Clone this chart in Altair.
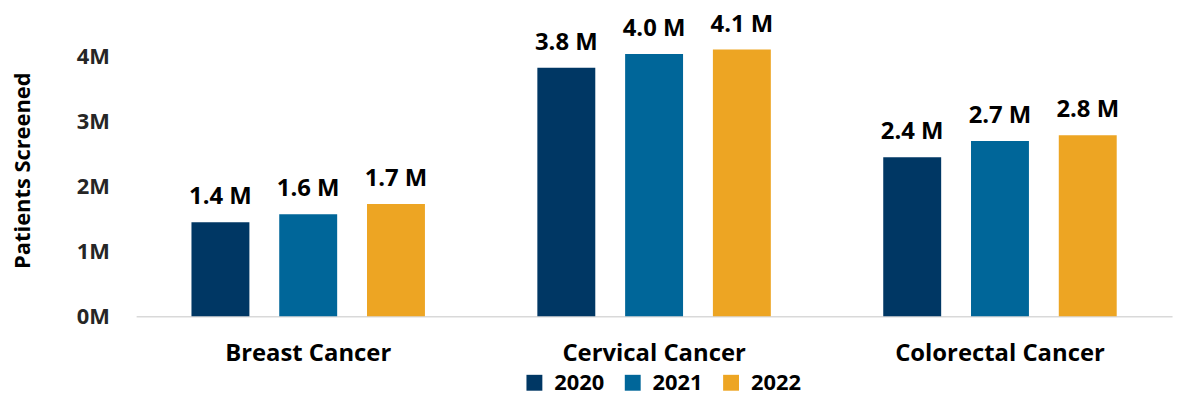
import altair as alt
import pandas as pd

categories = ["Breast Cancer", "Cervical Cancer", "Colorectal Cancer"]
years = ["2020", "2021", "2022"]
values_2020 = [1.45, 3.83, 2.45]
values_2021 = [1.57, 4.04, 2.70]
values_2022 = [1.73, 4.11, 2.79]
labels_2020 = ["1.4 M", "3.8 M", "2.4 M"]
labels_2021 = ["1.6 M", "4.0 M", "2.7 M"]
labels_2022 = ["1.7 M", "4.1 M", "2.8 M"]
colors = ["#003764", "#006699", "#EDA523"]

rows = []
for yr, vals, labs in zip(years, [values_2020, values_2021, values_2022],
                          [labels_2020, labels_2021, labels_2022]):
    for c, v, l in zip(categories, vals, labs):
        rows.append({"category": c, "year": yr, "value": v * 1e6, "label": l})
df = pd.DataFrame(rows)

FONT = "Open Sans"

x = alt.X("category:N", sort=categories, title=None,
          scale=alt.Scale(paddingInner=0.325, paddingOuter=0.16),
          axis=alt.Axis(labelAngle=0, labelFont=FONT, labelFontSize=24, labelFontWeight="bold",
                        labelColor="#000000", labelPadding=26, labelLimit=400, ticks=False,
                        domainColor="#d9d9d9", domainWidth=1.5))
xo = alt.XOffset("year:N", sort=years, scale=alt.Scale(paddingInner=0.34, paddingOuter=0))
y = alt.Y("value:Q", title="Patients Screened",
          scale=alt.Scale(domain=[0, 4.5e6], nice=False),
          axis=alt.Axis(values=[0, 1e6, 2e6, 3e6, 4e6], labelExpr="(datum.value/1e6) + 'M'",
                        grid=False, domain=False, ticks=False, labelFont=FONT, labelFontSize=22,
                        labelFontWeight="bold", labelColor="#262626", labelPadding=27,
                        titleFont=FONT, titleFontSize=22, titleFontWeight="bold",
                        titleColor="#000000", titlePadding=42))
color = alt.Color("year:N", sort=years, scale=alt.Scale(domain=years, range=colors),
                  legend=alt.Legend(title=None, orient="none", direction="horizontal",
                                    legendX=390, legendY=350, symbolType="square",
                                    symbolSize=256, symbolStrokeWidth=0, labelFont=FONT,
                                    labelFontSize=22, labelFontWeight="bold", labelColor="#000000",
                                    columnPadding=17, labelOffset=9))

base = alt.Chart(df).encode(x=x, xOffset=xo, y=y)
bars = base.mark_bar().encode(color=color)
text = base.mark_text(baseline="alphabetic", dy=-18, font=FONT, fontSize=24,
                      fontWeight="bold", color="#000000").encode(text="label:N")

chart = (bars + text).properties(
    width=1043, height=294,
    autosize=alt.AutoSizeParams(type="none"),
    padding={"left": 129, "top": 15, "right": 8, "bottom": 78},
).configure_view(stroke=None)

chart.save("out.html", embed_options={"renderer": "svg", "actions": False})
